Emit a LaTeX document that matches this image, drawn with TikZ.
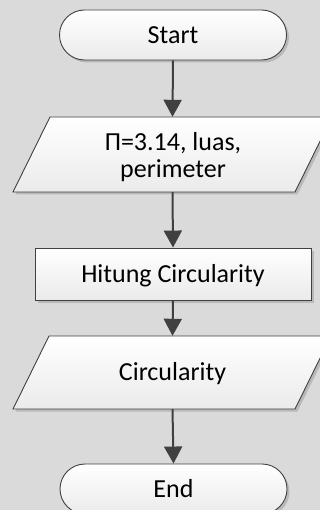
\documentclass[tikz,border=0pt]{standalone}
\usepackage{fontspec}
\setmainfont{Carlito}
\usetikzlibrary{shapes.misc,arrows.meta,shadows}
\definecolor{bggray}{HTML}{DADADA}
\definecolor{edge}{HTML}{404040}
\tikzset{
  x=1pt, y=-1pt,
  label font/.style={font=\fontsize{26}{27}\selectfont},
  shape look/.style={draw=edge, line width=0.9pt, top color=white, bottom color=black!8,
    drop shadow={shadow xshift=2.5pt, shadow yshift=-2.5pt, fill=black, opacity=0.15}},
  shape base/.style={shape look, inner sep=0pt, label font, text height=16.7pt, text depth=0pt},
  terminal/.style={shape base, rounded rectangle, minimum width=227pt, minimum height=50pt},
  process/.style={shape base, rectangle, minimum width=276pt, minimum height=52pt},
  % frame node carrying the anchors of a parallelogram drawn underneath it
  ioframe/.style={rectangle, inner sep=0pt, label font, text height=16.7pt, text depth=0pt,
    minimum width=282pt},
  textline/.style={label font, inner sep=0pt, anchor=base},
  flow/.style={draw=edge, line width=2pt, -{Triangle[length=17pt,width=18pt]}}
}
\begin{document}
\begin{tikzpicture}
  % page area and background
  \fill[bggray] (0,0) rectangle (320,510);
  \clip (0,0) rectangle (320,510);

  \node[terminal] (start) at (173,35) {Start};

  % input: data parallelogram
  \path[shape look] (13,192) -- (295,192) -- (332,117) -- (50,117) -- cycle;
  \node[ioframe, minimum height=75pt] (input) at (172.5,154.5) {};
  \node[textline] (inputA) at (173,151) {Π=3.14, luas,};
  \node[textline] (inputB) at (173,178) {perimeter};

  \node[process] (calc) at (173,274) {Hitung Circularity};

  % output: data parallelogram
  \path[shape look] (13,409) -- (295,409) -- (331,336) -- (49,336) -- cycle;
  \node[ioframe, minimum height=73pt] (output) at (172.5,372.5) {Circularity};

  \node[terminal] (end) at (173.5,489) {End};

  \draw[flow] (start.south) -- (input.north);
  \draw[flow] (input.south) -- (calc.north);
  \draw[flow] (calc.south) -- (output.north);
  \draw[flow] (output.south) -- (end.north);
\end{tikzpicture}
\end{document}
